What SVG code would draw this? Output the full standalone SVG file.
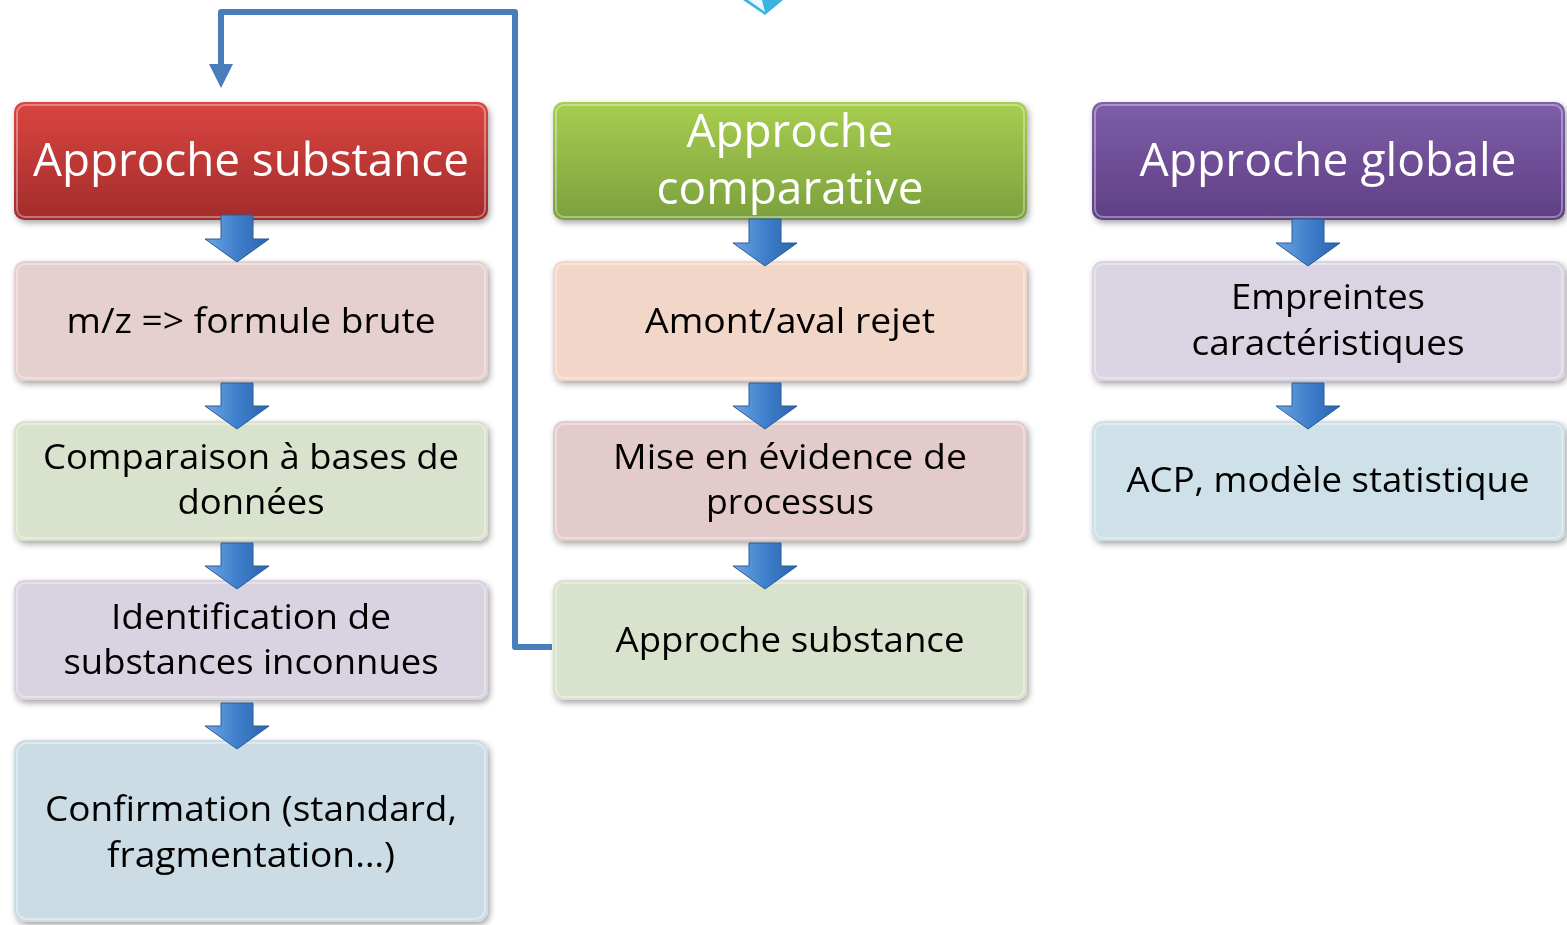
<svg xmlns="http://www.w3.org/2000/svg" width="1567" height="925" viewBox="0 0 1567 925">
<defs>
<style>
.hd{font-family:"Open Sans","Noto Sans",sans-serif;font-size:45px;fill:#fff;text-anchor:middle}
.bd{font-family:"Open Sans","Noto Sans",sans-serif;font-size:35px;fill:#000;text-anchor:middle}
.hl{fill:none;stroke:#fff;stroke-opacity:.35;stroke-width:2}
.ba{fill:url(#gBlue);stroke:#2a5a9a;stroke-width:1}
</style>
<filter id="sh" x="-5%" y="-10%" width="112%" height="125%">
<feDropShadow dx="2" dy="3" stdDeviation="3" flood-color="#000" flood-opacity=".35"/>
</filter>
<linearGradient id="gRed" x1="0" y1="0" x2="0" y2="1"><stop offset="0" stop-color="#DA4540"/><stop offset="1" stop-color="#A22C2B"/></linearGradient>
<linearGradient id="gGreen" x1="0" y1="0" x2="0" y2="1"><stop offset="0" stop-color="#A7CE4F"/><stop offset="1" stop-color="#7CA03E"/></linearGradient>
<linearGradient id="gPurple" x1="0" y1="0" x2="0" y2="1"><stop offset="0" stop-color="#7E5EA8"/><stop offset="1" stop-color="#5F3F86"/></linearGradient>
<linearGradient id="gBlue" x1="0" y1="0" x2="1" y2="0"><stop offset="0" stop-color="#6FA6E2"/><stop offset=".5" stop-color="#3F7FCC"/><stop offset="1" stop-color="#2C64AC"/></linearGradient>
</defs>
<rect width="1567" height="925" fill="#fff"/>

<g id="top-arrow">
<path d="M743,0 L783,0 L765,15 Z" fill="#3BB3E0"/>
<path d="M748,0 L762,0 L765,12 Z" fill="#E8F7FD"/>
</g>

<g id="connectors">
<path d="M552,647 H515 V12 H221 V66" fill="none" stroke="#4A7EBB" stroke-width="6" stroke-linejoin="round"/>
<path d="M209,64 L233,64 L221,88 Z" fill="#4A7EBB"/>
</g>

<!-- Column 1 -->
<g id="h1" filter="url(#sh)">
<rect x="14" y="102" width="474" height="118" rx="10" fill="url(#gRed)"/>
<rect x="17" y="105" width="468" height="112" rx="8" class="hl"/>
<text class="hd" x="251" y="176" textLength="436" lengthAdjust="spacingAndGlyphs">Approche substance</text>
</g>
<g id="n1a" filter="url(#sh)">
<rect x="14" y="261" width="474" height="120" rx="10" fill="#E6CFCF"/>
<rect x="17" y="264" width="468" height="114" rx="8" class="hl"/>
<text class="bd" x="251" y="333" textLength="369" lengthAdjust="spacingAndGlyphs">m/z =&gt; formule brute</text>
</g>
<g id="n1b" filter="url(#sh)">
<rect x="14" y="421" width="474" height="120" rx="10" fill="#D9E2CC"/>
<rect x="17" y="424" width="468" height="114" rx="8" class="hl"/>
<text class="bd" x="251" y="469" textLength="416" lengthAdjust="spacingAndGlyphs">Comparaison à bases de</text>
<text class="bd" x="251" y="514" textLength="147" lengthAdjust="spacingAndGlyphs">données</text>
</g>
<g id="n1c" filter="url(#sh)">
<rect x="14" y="580" width="474" height="120" rx="10" fill="#D9D2E1"/>
<rect x="17" y="583" width="468" height="114" rx="8" class="hl"/>
<text class="bd" x="251" y="629" textLength="280" lengthAdjust="spacingAndGlyphs">Identification de</text>
<text class="bd" x="251" y="674" textLength="375" lengthAdjust="spacingAndGlyphs">substances inconnues</text>
</g>
<g id="n1d" filter="url(#sh)">
<rect x="14" y="740" width="474" height="182" rx="12" fill="#CCDCE4"/>
<rect x="17" y="743" width="468" height="176" rx="10" class="hl"/>
<text class="bd" x="251" y="821" textLength="412" lengthAdjust="spacingAndGlyphs">Confirmation (standard,</text>
<text class="bd" x="251" y="867" textLength="288" lengthAdjust="spacingAndGlyphs">fragmentation…)</text>
</g>

<!-- Column 2 -->
<g id="h2" filter="url(#sh)">
<rect x="553" y="102" width="474" height="118" rx="10" fill="url(#gGreen)"/>
<rect x="556" y="105" width="468" height="112" rx="8" class="hl"/>
<text class="hd" x="790" y="147" textLength="207" lengthAdjust="spacingAndGlyphs">Approche</text>
<text class="hd" x="790" y="204" textLength="267" lengthAdjust="spacingAndGlyphs">comparative</text>
</g>
<g id="n2a" filter="url(#sh)">
<rect x="553" y="261" width="474" height="120" rx="10" fill="#F2D6C8"/>
<rect x="556" y="264" width="468" height="114" rx="8" class="hl"/>
<text class="bd" x="790" y="333" textLength="290" lengthAdjust="spacingAndGlyphs">Amont/aval rejet</text>
</g>
<g id="n2b" filter="url(#sh)">
<rect x="553" y="421" width="474" height="120" rx="10" fill="#E4CBCB"/>
<rect x="556" y="424" width="468" height="114" rx="8" class="hl"/>
<text class="bd" x="790" y="469" textLength="354" lengthAdjust="spacingAndGlyphs">Mise en évidence de</text>
<text class="bd" x="790" y="514" textLength="168" lengthAdjust="spacingAndGlyphs">processus</text>
</g>
<g id="n2c" filter="url(#sh)">
<rect x="553" y="580" width="474" height="120" rx="10" fill="#D9E2CC"/>
<rect x="556" y="583" width="468" height="114" rx="8" class="hl"/>
<text class="bd" x="790" y="652" textLength="349" lengthAdjust="spacingAndGlyphs">Approche substance</text>
</g>

<!-- Column 3 -->
<g id="h3" filter="url(#sh)">
<rect x="1092" y="102" width="473" height="118" rx="10" fill="url(#gPurple)"/>
<rect x="1095" y="105" width="467" height="112" rx="8" class="hl"/>
<text class="hd" x="1328" y="176" textLength="377" lengthAdjust="spacingAndGlyphs">Approche globale</text>
</g>
<g id="n3a" filter="url(#sh)">
<rect x="1092" y="261" width="473" height="120" rx="10" fill="#DAD4E2"/>
<rect x="1095" y="264" width="467" height="114" rx="8" class="hl"/>
<text class="bd" x="1328" y="309" textLength="194" lengthAdjust="spacingAndGlyphs">Empreintes</text>
<text class="bd" x="1328" y="355" textLength="273" lengthAdjust="spacingAndGlyphs">caractéristiques</text>
</g>
<g id="n3b" filter="url(#sh)">
<rect x="1092" y="421" width="473" height="120" rx="10" fill="#CEE0E8"/>
<rect x="1095" y="424" width="467" height="114" rx="8" class="hl"/>
<text class="bd" x="1328" y="492" textLength="403" lengthAdjust="spacingAndGlyphs">ACP, modèle statistique</text>
</g>

<!-- Block arrows -->
<g id="block-arrows">
<path class="ba" d="M221,215 H253 V239 H269 L237,262 L205,239 H221 Z"/>
<path class="ba" d="M221,383 H253 V406 H269 L237,429 L205,406 H221 Z"/>
<path class="ba" d="M221,543 H253 V566 H269 L237,589 L205,566 H221 Z"/>
<path class="ba" d="M221,703 H253 V726 H269 L237,749 L205,726 H221 Z"/>
<path class="ba" d="M749,219 H781 V243 H797 L765,266 L733,243 H749 Z"/>
<path class="ba" d="M749,383 H781 V406 H797 L765,429 L733,406 H749 Z"/>
<path class="ba" d="M749,543 H781 V566 H797 L765,589 L733,566 H749 Z"/>
<path class="ba" d="M1292,219 H1324 V243 H1340 L1308,266 L1276,243 H1292 Z"/>
<path class="ba" d="M1292,383 H1324 V406 H1340 L1308,429 L1276,406 H1292 Z"/>
</g>
</svg>
